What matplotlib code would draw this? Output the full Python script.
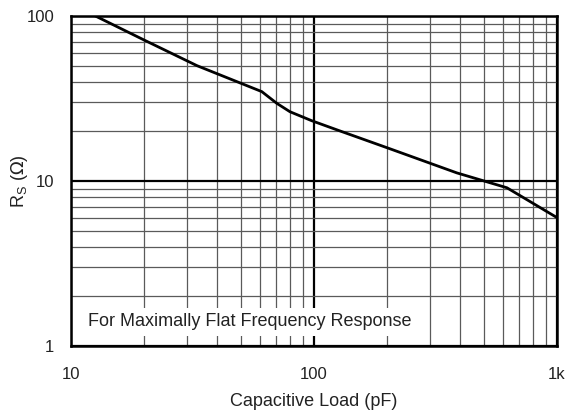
import matplotlib
matplotlib.use("Agg")
import matplotlib.pyplot as plt
from matplotlib.ticker import FixedLocator, NullFormatter, LogLocator

plt.rcParams['font.family'] = ['Liberation Sans', 'DejaVu Sans']

cap_pf = [12.6, 20, 33, 61, 70.2, 79.6, 97.8, 128, 200, 387, 622, 1000]
rs_ohm = [100, 71.5, 50, 34.8, 29.6, 26.3, 23.2, 20.1, 15.9, 11.2, 9.1, 6.0]

xticks = [10, 100, 1000]
xticklabels = ['10', '100', '1k']
yticks = [1, 10, 100]
yticklabels = ['1', '10', '100']

fig = plt.figure(figsize=(5.66, 4.13), dpi=100)
ax = fig.add_axes([71/566, 1-346/413, (557-71)/566, (346-16)/413])
ax.set_xscale('log')
ax.set_yscale('log')
ax.set_xlim(10, 1000)
ax.set_ylim(1, 100)

ax.xaxis.set_major_locator(FixedLocator(xticks))
ax.set_xticklabels(xticklabels)
ax.yaxis.set_major_locator(FixedLocator(yticks))
ax.set_yticklabels(yticklabels)
ax.xaxis.set_minor_locator(LogLocator(base=10, subs=range(2, 10)))
ax.yaxis.set_minor_locator(LogLocator(base=10, subs=range(2, 10)))
ax.xaxis.set_minor_formatter(NullFormatter())
ax.yaxis.set_minor_formatter(NullFormatter())

ax.grid(which='major', color='black', linewidth=1.6, zorder=1)
ax.grid(which='minor', color='#5a5a5a', linewidth=0.9, zorder=1)
ax.tick_params(which='both', length=0, labelsize=12, colors='#222222')
ax.tick_params(axis='x', pad=15)
ax.tick_params(axis='y', pad=12)

for s in ax.spines.values():
    s.set_linewidth(1.8)
    s.set_color('black')

ax.plot(cap_pf, rs_ohm, color='black', linewidth=2.0, zorder=3)

ax.text(0.035, 0.073, 'For Maximally Flat Frequency Response', transform=ax.transAxes,
        fontsize=13, color='#222222', zorder=4, va='center', ha='left',
        bbox=dict(facecolor='white', edgecolor='none', pad=4))

ax.set_xlabel('Capacitive Load (pF)', fontsize=13, color='#222222', labelpad=8)
ax.set_ylabel(r'R$_\mathregular{S}$ ($\Omega$)', fontsize=13, color='#222222')
ax.yaxis.set_label_coords(-0.085, 0.5)

fig.savefig('out.png', dpi=100)
